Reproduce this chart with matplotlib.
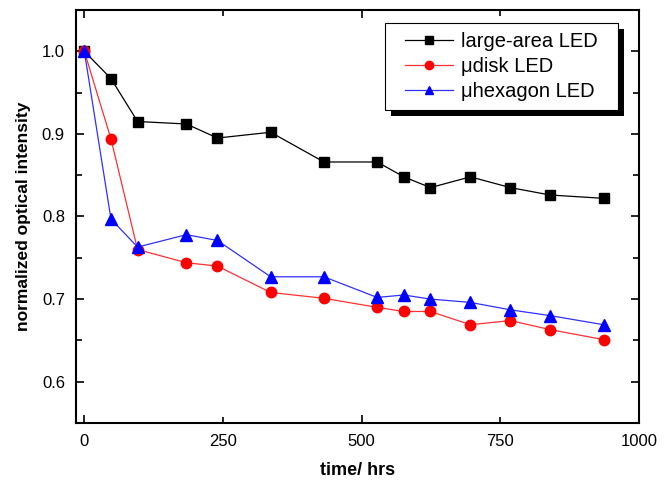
import matplotlib
matplotlib.use("Agg")
import matplotlib.pyplot as plt
from matplotlib.patches import Rectangle
from matplotlib.ticker import FixedLocator

plt.rcParams['font.family'] = ['Liberation Sans', 'DejaVu Sans']

# time points (hours) and normalized intensity for each device
hours = [0, 48, 96, 184, 240, 336, 432, 528, 576, 624, 696, 768, 840, 936]
large_area = [1.0, 0.967, 0.915, 0.912, 0.895, 0.902, 0.866, 0.866, 0.848, 0.835, 0.848, 0.835, 0.826, 0.822]
udisk = [1.0, 0.894, 0.760, 0.744, 0.740, 0.708, 0.701, 0.690, 0.685, 0.685, 0.669, 0.674, 0.663, 0.651]
uhexagon = [1.0, 0.797, 0.763, 0.778, 0.771, 0.727, 0.727, 0.702, 0.705, 0.700, 0.696, 0.687, 0.680, 0.669]

x_major = [0, 500, 1000]
x_minor = [250, 750]
y_major = [0.6, 0.7, 0.8, 0.9, 1.0]

fig = plt.figure(figsize=(6.67, 4.83), dpi=100)
ax = fig.add_axes([76 / 667, 60 / 483, 563 / 667, 413 / 483])

ax.plot(hours, large_area, color='black', lw=0.9, marker='s', ms=6.5,
        mec='black', mfc='black', label='large-area LED')
ax.plot(hours, udisk, color='#ff3030', lw=0.9, marker='o', ms=7.5,
        mec='red', mfc='red', label='\u03bcdisk LED')
ax.plot(hours, uhexagon, color='#3030ff', lw=0.9, marker='^', ms=8,
        mec='blue', mfc='blue', label='\u03bchexagon LED')

ax.set_xlim(-15, 1000)
ax.set_ylim(0.55, 1.05)
ax.xaxis.set_major_locator(FixedLocator(x_major))
ax.xaxis.set_minor_locator(FixedLocator(x_minor))
ax.xaxis.set_minor_formatter(plt.FuncFormatter(lambda v, p: f"{v:.0f}"))
ax.yaxis.set_major_locator(FixedLocator(y_major))
ax.yaxis.set_minor_locator(FixedLocator([0.65, 0.75, 0.85, 0.95]))
ax.set_yticklabels([f"{v:.1f}" for v in y_major])

ax.tick_params(which='both', direction='in', top=True, right=True,
               labelsize=12, width=1.2, pad=8)
ax.tick_params(which='major', length=6)
ax.tick_params(which='minor', length=4)
for s in ax.spines.values():
    s.set_linewidth(1.5)

ax.set_xlabel('time/ hrs', fontsize=13, fontweight='bold', labelpad=9)
ax.set_ylabel('normalized optical intensity', fontsize=12.5, fontweight='bold', labelpad=8)

leg = ax.legend(loc='upper right', bbox_to_anchor=(0.943, 0.969), fontsize=14.5,
                frameon=False, handlelength=2.4, handletextpad=0.4, borderpad=0.45,
                labelspacing=0.3, borderaxespad=0, markerscale=0.8)
leg.set_zorder(7)

# legend box (wider than matplotlib pads it) with a black drop shadow
fig.canvas.draw()
bb = leg.get_window_extent()
px_w, px_h = fig.bbox.width, fig.bbox.height
x0 = (bb.x0 - 11) / px_w
y0 = bb.y0 / px_h
w = (bb.width + 22) / px_w
h = bb.height / px_h
shadow = Rectangle((x0 + 6 / px_w, y0 - 6 / px_h), w, h, transform=fig.transFigure,
                   facecolor='black', edgecolor='none', zorder=5, clip_on=False)
box = Rectangle((x0, y0), w, h, transform=fig.transFigure, facecolor='white',
                edgecolor='black', lw=0.8, zorder=6, clip_on=False)
ax.add_patch(shadow)
ax.add_patch(box)

fig.savefig('out.png', dpi=100)
